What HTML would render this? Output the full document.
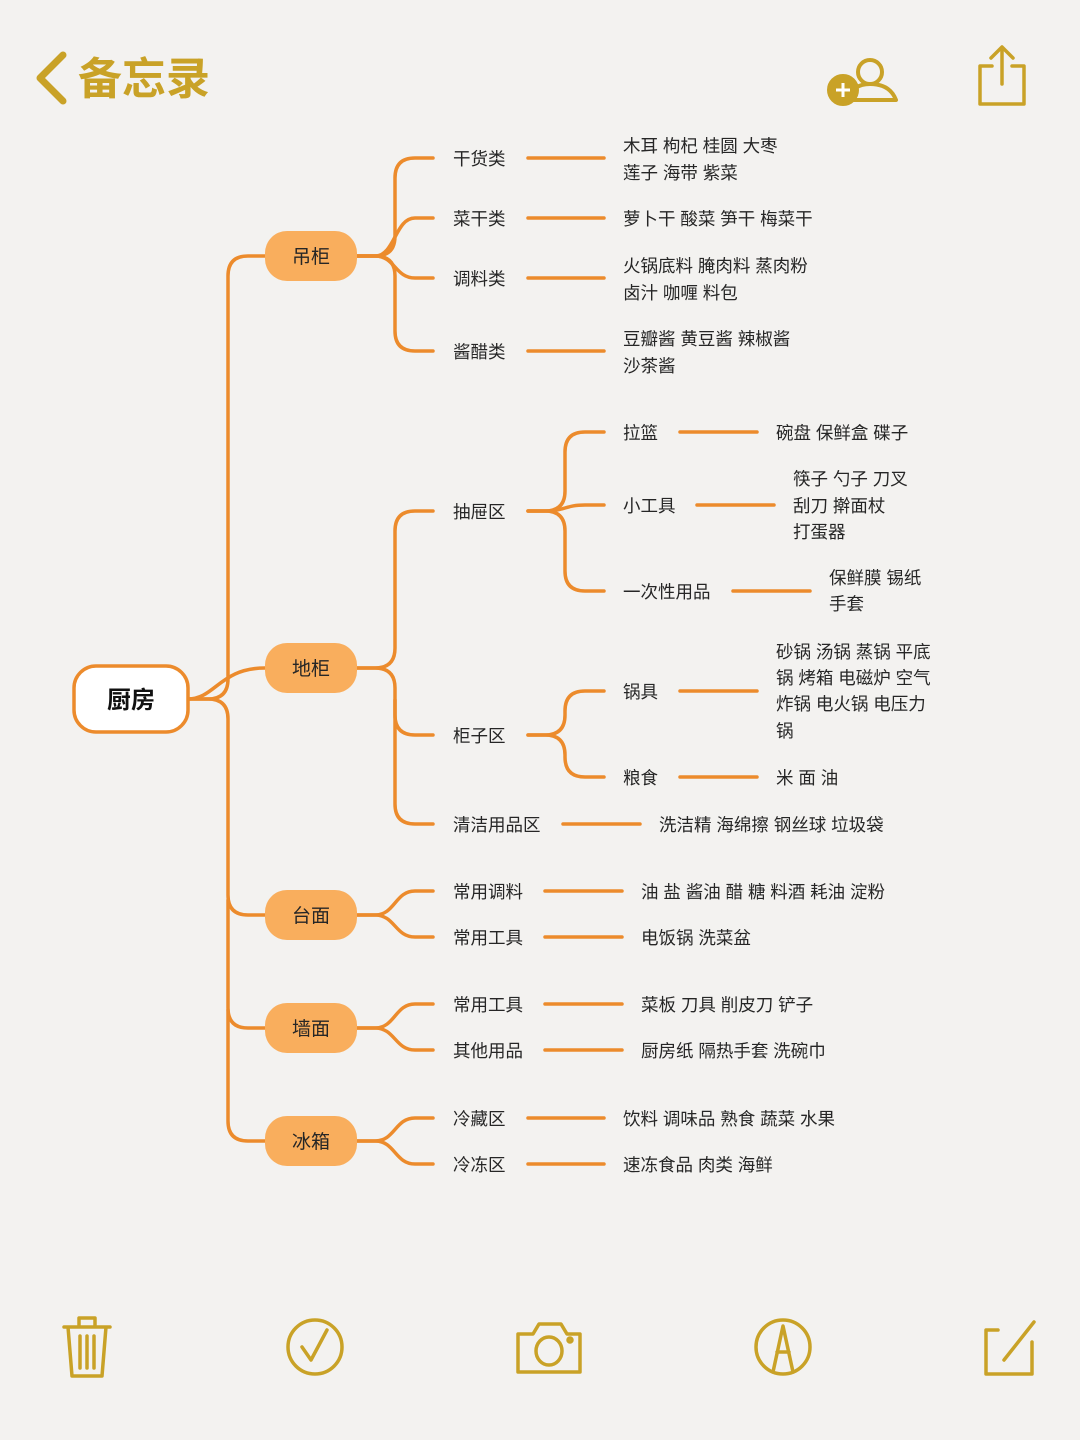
<!DOCTYPE html>
<html><head><meta charset="utf-8"><style>
html,body{margin:0;padding:0;background:#f3f2f0;}
svg{display:block;}
text{font-family:"Liberation Sans","Noto Sans CJK SC",sans-serif;fill:#262626;font-size:17.5px;}
.c{stroke:#ec8b2c;stroke-width:3.5;fill:none;stroke-linecap:round;}
.g{stroke:#c9a227;stroke-width:4;fill:none;stroke-linecap:round;stroke-linejoin:round;}
.n{fill:#f9ae5d;}
</style></head><body>
<svg width="1080" height="1440" viewBox="0 0 1080 1440" xmlns="http://www.w3.org/2000/svg">
<rect width="1080" height="1440" fill="#f3f2f0"/>
<!-- header -->
<path class="g" d="M63,55 L40,78 L63,101" style="stroke-width:7"/>
<text x="78" y="94" style="font-size:44px;fill:#c9a227;font-weight:bold">备忘录</text>
<g class="g">
<circle cx="870" cy="72" r="12"/>
<path d="M848,100 Q852,84 870,84 Q890,84 896,100 Z" />
<circle cx="843" cy="90" r="14" fill="#c9a227"/>
</g>
<path d="M836,90 H850 M843,83 V97" stroke="#fff" stroke-width="3"/>
<g class="g" style="stroke-width:3.5">
<path d="M992,66 H980 V104 H1024 V66 H1012"/>
<path d="M1002,84 V47 M991,58 L1002,47 L1013,58"/>
</g>
<!-- connectors -->
<g class="c">
<path d="M188,699 H208 Q228,699 228,679 V276 Q228,256 248,256 H265"/>
<path d="M188,699 C215,699 220,668 265,668"/>
<path d="M188,699 H208 Q228,699 228,719 V895 Q228,915 248,915 H265"/>
<path d="M228,900 V1008 Q228,1028 248,1028 H265"/>
<path d="M228,1010 V1121 Q228,1141 248,1141 H265"/>
<!-- 吊柜 -->
<path d="M357,256 H375 Q395,256 395,236 V178 Q395,158 415,158 H433"/>
<path d="M357,256 H375 C395,256 395,218 415,218 H433"/>
<path d="M357,256 H375 C395,256 395,278 415,278 H433"/>
<path d="M357,256 H375 Q395,256 395,276 V331 Q395,351 415,351 H433"/>
<path d="M528,158 H604 M528,218 H604 M528,278 H604 M528,351 H604"/>
<!-- 地柜 -->
<path d="M357,668 H375 Q395,668 395,648 V531 Q395,511 415,511 H433"/>
<path d="M357,668 H375 Q395,668 395,688 V715 Q395,735 415,735 H433"/>
<path d="M395,700 V804 Q395,824 415,824 H433"/>
<path d="M528,511 H545 Q565,511 565,491 V452 Q565,432 585,432 H604"/>
<path d="M528,511 H545 C565,511 565,505 585,505 H604"/>
<path d="M528,511 H545 Q565,511 565,531 V571 Q565,591 585,591 H604"/>
<path d="M680,432 H757 M697,505 H774 M733,591 H810"/>
<path d="M528,735 H545 Q565,735 565,715 V711 Q565,691 585,691 H604"/>
<path d="M528,735 H545 Q565,735 565,755 V757 Q565,777 585,777 H604"/>
<path d="M680,691 H757 M680,777 H757 M563,824 H640"/>
<!-- 台面 墙面 冰箱 -->
<path d="M357,915 H375 C395,915 395,891 415,891 H433"/>
<path d="M357,915 H375 C395,915 395,937 415,937 H433"/>
<path d="M357,1028 H375 C395,1028 395,1004 415,1004 H433"/>
<path d="M357,1028 H375 C395,1028 395,1050 415,1050 H433"/>
<path d="M357,1141 H375 C395,1141 395,1118 415,1118 H433"/>
<path d="M357,1141 H375 C395,1141 395,1164 415,1164 H433"/>
<path d="M545,891 H622 M545,937 H622 M545,1004 H622 M545,1050 H622 M528,1118 H604 M528,1164 H604"/>
</g>
<!-- root -->
<rect x="74" y="666" width="114" height="66" rx="22" fill="#fff" stroke="#ec8b2c" stroke-width="3.5"/>
<text x="131" y="708" text-anchor="middle" style="font-size:24px;font-weight:bold;fill:#111">厨房</text>
<!-- L1 nodes -->
<g>
<rect class="n" x="265" y="231" width="92" height="50" rx="22"/>
<rect class="n" x="265" y="643" width="92" height="50" rx="22"/>
<rect class="n" x="265" y="890" width="92" height="50" rx="22"/>
<rect class="n" x="265" y="1003" width="92" height="50" rx="22"/>
<rect class="n" x="265" y="1116" width="92" height="50" rx="22"/>
</g>
<text x="311" y="263" text-anchor="middle" style="font-size:19px">吊柜</text>
<text x="311" y="675" text-anchor="middle" style="font-size:19px">地柜</text>
<text x="311" y="922" text-anchor="middle" style="font-size:19px">台面</text>
<text x="311" y="1035" text-anchor="middle" style="font-size:19px">墙面</text>
<text x="311" y="1148" text-anchor="middle" style="font-size:19px">冰箱</text>
<!-- L2 -->
<text x="453" y="165">干货类</text>
<text x="453" y="225">菜干类</text>
<text x="453" y="285">调料类</text>
<text x="453" y="358">酱醋类</text>
<text x="453" y="518">抽屉区</text>
<text x="453" y="742">柜子区</text>
<text x="453" y="831">清洁用品区</text>
<text x="453" y="898">常用调料</text>
<text x="453" y="944">常用工具</text>
<text x="453" y="1011">常用工具</text>
<text x="453" y="1057">其他用品</text>
<text x="453" y="1125">冷藏区</text>
<text x="453" y="1171">冷冻区</text>
<!-- L3 -->
<text x="623" y="152">木耳 枸杞 桂圆 大枣</text>
<text x="623" y="179">莲子 海带 紫菜</text>
<text x="623" y="225">萝卜干 酸菜 笋干 梅菜干</text>
<text x="623" y="272">火锅底料 腌肉料 蒸肉粉</text>
<text x="623" y="299">卤汁 咖喱 料包</text>
<text x="623" y="345">豆瓣酱 黄豆酱 辣椒酱</text>
<text x="623" y="372">沙茶酱</text>
<text x="623" y="439">拉篮</text>
<text x="623" y="512">小工具</text>
<text x="623" y="598">一次性用品</text>
<text x="623" y="698">锅具</text>
<text x="623" y="784">粮食</text>
<text x="776" y="439">碗盘 保鲜盒 碟子</text>
<text x="793" y="485">筷子 勺子 刀叉</text>
<text x="793" y="512">刮刀 擀面杖</text>
<text x="793" y="538">打蛋器</text>
<text x="829" y="584">保鲜膜 锡纸</text>
<text x="829" y="610">手套</text>
<text x="776" y="658">砂锅 汤锅 蒸锅 平底</text>
<text x="776" y="684">锅 烤箱 电磁炉 空气</text>
<text x="776" y="710">炸锅 电火锅 电压力</text>
<text x="776" y="737">锅</text>
<text x="776" y="784">米 面 油</text>
<text x="659" y="831">洗洁精 海绵擦 钢丝球 垃圾袋</text>
<text x="641" y="898">油 盐 酱油 醋 糖 料酒 耗油 淀粉</text>
<text x="641" y="944">电饭锅 洗菜盆</text>
<text x="641" y="1011">菜板 刀具 削皮刀 铲子</text>
<text x="641" y="1057">厨房纸 隔热手套 洗碗巾</text>
<text x="623" y="1125">饮料 调味品 熟食 蔬菜 水果</text>
<text x="623" y="1171">速冻食品 肉类 海鲜</text>
<!-- bottom icons -->
<g class="g" style="stroke-width:3.5">
<path d="M64,1327 H110 M79,1327 V1318 H95 V1327 M68,1327 L72,1376 H102 L106,1327 M80,1336 V1368 M87,1336 V1368 M94,1336 V1368"/>
<circle cx="315" cy="1347" r="27"/>
<path d="M302,1347 L311,1360 L327,1330"/>
<path d="M518,1334 H533 L539,1324 H561 L567,1334 H580 V1372 H518 Z"/>
<ellipse cx="549" cy="1351" rx="13" ry="14"/>
<circle cx="570" cy="1340" r="2"/>
<circle cx="783" cy="1347" r="27"/>
<path d="M773,1372 L783,1326 L793,1372 M777,1352 H789"/>
<path d="M998,1330 H986 V1374 H1032 V1342"/>
<path d="M1004,1360 L1034,1322"/>
</g>
</svg>
</body></html>
